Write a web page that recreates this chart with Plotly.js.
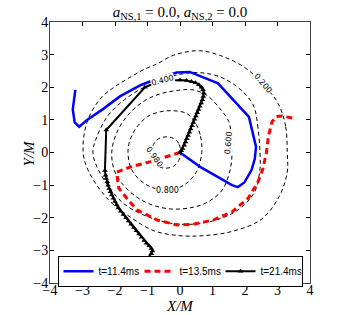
<!DOCTYPE html>
<html>
<head>
<meta charset="utf-8">
<script src="https://cdn.plot.ly/plotly-3.0.1.min.js"></script>
<style>html,body{margin:0;padding:0;background:#fff;}#chart{width:349px;height:315px;}</style>
</head>
<body>
<div id="chart"></div>
<script>
// Series names
var seriesNames = ['t=11.4ms', 't=13.5ms', 't=21.4ms'];

// Blue: t=11.4ms
var blueX = [-3.22, -3.3, -3.24, -3.1, -2.86, -2.37, -1.85, -1.2, -0.6, -0.1, 0.3, 1.17, 2.12, 2.34, 2.3, 2.2, 1.98, 1.78, 1.6, 1.3, 0.62, 0.0];
var blueY = [1.92, 1.32, 0.92, 0.79, 1.0, 1.33, 1.72, 2.07, 2.3, 2.45, 2.47, 2.12, 1.09, 0.17, -0.2, -0.54, -0.92, -1.06, -1.0, -0.83, -0.44, 0.0];

// Red: t=13.5ms
var redX = [0.0, -0.8, -1.54, -1.94, -1.92, -1.88, -1.6, -1.32, -0.7, -0.1, 0.4, 1.02, 1.6, 2.1, 2.4, 2.55, 2.66, 2.72, 2.83, 2.95, 3.14, 3.48];
var redY = [0.0, -0.25, -0.45, -0.6, -0.85, -1.1, -1.45, -1.76, -2.07, -2.22, -2.2, -2.07, -1.82, -1.4, -0.9, -0.5, 0.0, 0.5, 0.94, 1.1, 1.12, 1.05];

// Black: t=21.4ms
var blackX = [-1.12, -1.06, -1.0, -0.94, -0.88, -0.85, -0.88, -0.95, -1.03, -1.1, -1.18, -1.26, -1.34, -1.42, -1.5, -1.58, -1.66, -1.74, -1.82, -1.89, -1.95, -2.0, -2.05, -2.1, -2.14, -2.18, -2.21, -2.24, -2.27, -2.29, -2.31,
              -2.27, -1.08, -0.71,
              -0.3, 0.0, 0.2, 0.35, 0.48, 0.58, 0.66, 0.71, 0.73, 0.72, 0.69, 0.65, 0.61, 0.57, 0.53, 0.49, 0.45, 0.41, 0.37, 0.33, 0.29, 0.25, 0.21, 0.17, 0.13, 0.08, 0.04, 0.0];
var blackY = [-3.5, -3.4, -3.3, -3.2, -3.1, -3.02, -2.94, -2.86, -2.78, -2.7, -2.6, -2.5, -2.4, -2.3, -2.2, -2.1, -2.0, -1.9, -1.8, -1.7, -1.6, -1.5, -1.4, -1.3, -1.2, -1.1, -1.0, -0.9, -0.8, -0.7, -0.55,
              0.69, 2.0, 2.15,
              2.2, 2.22, 2.21, 2.18, 2.14, 2.08, 2.0, 1.92, 1.82, 1.72, 1.62, 1.52, 1.42, 1.32, 1.22, 1.12, 1.02, 0.92, 0.82, 0.72, 0.62, 0.52, 0.42, 0.32, 0.22, 0.12, 0.05, 0.0];

// Contours
var c200X = [3.3, 3.25, 3.02, 2.55, 2.0, 1.3, 0.6, -0.2, -0.7, -1.1, -1.63, -2.1, -2.46, -2.86, -2.98, -2.8, -2.2, -1.5, -0.8, 0.0, 0.7, 1.6, 2.5, 3.05, 3.3, 3.3];
var c200Y = [0.0, 0.8, 1.5, 2.1, 2.6, 2.95, 3.12, 2.98, 2.72, 2.55, 2.25, 1.95, 1.64, 0.93, 0.0, -0.6, -1.45, -2.0, -2.4, -2.55, -2.55, -2.42, -2.05, -1.35, -0.6, 0.0];
var c400X = [2.46, 2.4, 2.25, 1.8, 1.2, 0.5, -0.2, -0.9, -1.6, -2.2, -2.55, -2.68, -2.46, -1.75, -0.9, 0.0, 1.0, 1.8, 2.3, 2.46, 2.46];
var c400Y = [0.0, 0.75, 1.46, 1.98, 2.33, 2.45, 2.35, 2.1, 1.7, 1.15, 0.5, 0.0, -0.63, -1.55, -2.0, -2.2, -2.1, -1.75, -1.2, -0.5, 0.0];
var c600X = [1.6, 1.58, 1.5, 1.2, 0.83, 0.4, -0.1, -0.6, -1.1, -1.6, -1.95, -2.1, -2.0, -1.6, -1.0, -0.3, 0.4, 0.85, 1.3, 1.55, 1.6];
var c600Y = [0.0, 0.5, 0.95, 1.38, 1.75, 1.92, 1.9, 1.8, 1.58, 1.15, 0.6, 0.0, -0.6, -1.15, -1.55, -1.73, -1.68, -1.52, -1.15, -0.5, 0.0];
var c800X = [0.67, 0.62, 0.45, 0.2, -0.2, -0.6, -1.0, -1.35, -1.55, -1.6, -1.5, -1.1, -0.4, 0.15, 0.5, 0.67];
var c800Y = [0.0, 0.55, 0.95, 1.2, 1.28, 1.25, 1.1, 0.75, 0.35, 0.0, -0.5, -0.95, -1.17, -0.98, -0.6, 0.0];
var c980X = [0.02, -0.04, -0.2, -0.43, -0.66, -0.82, -0.88, -0.82, -0.66, -0.43, -0.2, -0.04, 0.02];
var c980Y = [0.0, 0.28, 0.43, 0.48, 0.42, 0.24, 0.0, -0.26, -0.43, -0.48, -0.42, -0.25, 0.0];

var contourLabels = ['0.200', '0.400', '0.600', '0.800', '0.980'];
var labelX = [2.55, -0.55, 1.5, -0.4, -0.77];
var labelY = [2.1, 2.22, 0.3, -1.17, -0.14];
var labelAngle = [50, -15, -85, 0, 55];

var tickVals = [-4, -3, -2, -1, 0, 1, 2, 3, 4];
var tickText = ['\u22124', '\u22123', '\u22122', '\u22121', '0', '1', '2', '3', '4'];

var titleText = '<i>a</i><sub>NS,1</sub> = 0.0, <i>a</i><sub>NS,2</sub> = 0.0';
var xTitle = '<i>X/M</i>';
var yTitle = '<i>Y/M</i>';

var contours = [[c200X, c200Y], [c400X, c400Y], [c600X, c600Y], [c800X, c800Y], [c980X, c980Y]];
var traces = contours.map(function (c) {
  return {x: c[0], y: c[1], type: 'scatter', mode: 'lines', showlegend: false, hoverinfo: 'skip',
    line: {color: '#000', width: 1, dash: '4px,3px', shape: 'spline', smoothing: 1}};
});
traces.push({x: blueX, y: blueY, type: 'scatter', mode: 'lines', name: seriesNames[0],
  line: {color: '#0000ff', width: 2.5}});
traces.push({x: redX, y: redY, type: 'scatter', mode: 'lines', name: seriesNames[1],
  line: {color: '#ff0000', width: 3, dash: '6px,4px'}});
traces.push({x: blackX, y: blackY, type: 'scatter', mode: 'lines+markers', name: seriesNames[2],
  line: {color: '#000', width: 2}, marker: {symbol: 'triangle-up', size: 5, color: '#000'}});

var annotations = contourLabels.map(function (t, i) {
  return {x: labelX[i], y: labelY[i], xref: 'x', yref: 'y', text: t, showarrow: false,
    textangle: labelAngle[i], font: {family: 'DejaVu Sans', size: 8, color: '#000'},
    bgcolor: '#ffffff', borderpad: 0};
});
var serif = {family: 'Liberation Serif', size: 15, color: '#000'};
annotations.push({xref: 'paper', yref: 'paper', x: 0.5, y: -0.088, xanchor: 'center', yanchor: 'middle',
  text: xTitle, showarrow: false, font: serif});
annotations.push({xref: 'paper', yref: 'paper', x: -0.081, y: 0.5, xanchor: 'center', yanchor: 'middle',
  text: yTitle, showarrow: false, textangle: -90, font: serif});

var axisCommon = {
  range: [-4, 4], autorange: false, tickmode: 'array', tickvals: tickVals, ticktext: tickText,
  ticks: 'inside', ticklen: 4, tickwidth: 1, tickcolor: '#000', mirror: 'allticks',
  showline: true, linecolor: '#444', linewidth: 1, showgrid: false, zeroline: false, automargin: false,
  tickfont: {family: 'Liberation Serif', size: 14, color: '#000'}
};

var layout = {
  width: 349, height: 315,
  margin: {l: 50, r: 39, t: 22, b: 32, autoexpand: false},
  paper_bgcolor: '#fff', plot_bgcolor: '#fff',
  title: {text: titleText, automargin: false,
    font: {family: 'Liberation Serif', size: 15, color: '#000'},
    x: 0.5, xref: 'paper', xanchor: 'center', y: 0.962, yref: 'container', yanchor: 'middle'},
  xaxis: Object.assign({}, axisCommon, {ticklabelstandoff: -6}),
  yaxis: Object.assign({}, axisCommon, {ticklabelstandoff: -2}),
  showlegend: true,
  legend: {orientation: 'h', x: 0.5, xanchor: 'center', y: -0.0145, yanchor: 'bottom',
    bgcolor: '#fff', bordercolor: '#000', borderwidth: 1,
    font: {family: 'Liberation Sans', size: 10, color: '#000'}, tracegroupgap: 0, itemwidth: 30,
    entrywidth: 36, entrywidthmode: 'pixels'},
  annotations: annotations
};

Plotly.newPlot('chart', traces, layout, {staticPlot: true, displayModeBar: false});
</script>
</body>
</html>
